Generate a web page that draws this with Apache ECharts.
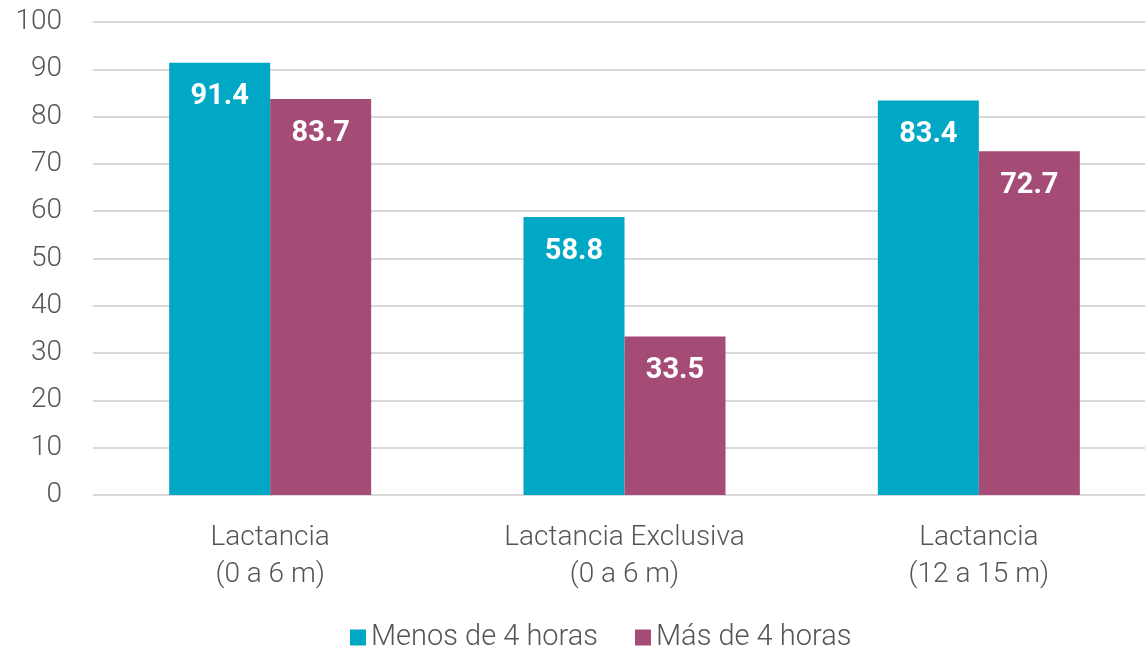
<!DOCTYPE html>
<html>
<head>
<meta charset="utf-8">
<script src="https://cdn.jsdelivr.net/npm/echarts@6/dist/echarts.min.js"></script>
<style>
  html, body { margin: 0; padding: 0; background: #fff; }
  #chart { width: 1145px; height: 650px; }
</style>
</head>
<body>
<div id="chart"></div>
<script>
const categories = ['Lactancia\n(0 a 6 m)', 'Lactancia Exclusiva\n(0 a 6 m)', 'Lactancia\n(12 a 15 m)'];
const seriesNames = ['Menos de 4 horas', 'Más de 4 horas'];
const menosValues = [91.4, 58.8, 83.4];
const masValues = [83.7, 33.5, 72.7];
const colors = ['#00A8C5', '#A44B76'];

const font = 'Roboto';
const chart = echarts.init(document.getElementById('chart'));

const barLabel = {
  show: true,
  position: 'insideTop',
  distance: 20,
  color: '#fff',
  fontFamily: font,
  fontWeight: 'bold',
  fontSize: 29,
  formatter: (p) => p.value.toFixed(1),
};

chart.setOption({
  animation: false,
  color: colors,
  // plot area runs a little past the right edge of the canvas
  grid: { left: 93, width: 1063, top: 22, bottom: 155, outerBoundsMode: 'none' },
  legend: {
    bottom: -7,
    left: 345,
    itemWidth: 16,
    itemHeight: 16,
    itemGap: 37,
    icon: 'rect',
    textStyle: { fontFamily: font, fontSize: 29, fontWeight: 300, color: '#555' },
    data: seriesNames,
  },
  xAxis: {
    type: 'category',
    data: categories,
    axisLine: { show: false },
    axisTick: { show: false },
    axisLabel: {
      margin: 24,
      fontFamily: font,
      fontSize: 28,
      fontWeight: 300,
      lineHeight: 37,
      color: '#555',
    },
  },
  yAxis: {
    type: 'value',
    min: 0,
    max: 100,
    interval: 10,
    axisLine: { show: false },
    axisTick: { show: false },
    axisLabel: {
      margin: 31,
      fontFamily: font,
      fontSize: 28,
      fontWeight: 300,
      color: '#555',
    },
    splitLine: { lineStyle: { color: '#d9d9d9', width: 2 } },
  },
  series: [
    {
      name: seriesNames[0],
      type: 'bar',
      data: menosValues,
      barWidth: 101,
      barGap: '0%',
      label: barLabel,
    },
    {
      name: seriesNames[1],
      type: 'bar',
      data: masValues,
      barWidth: 101,
      barGap: '0%',
      label: barLabel,
    },
  ],
});
</script>
</body>
</html>
